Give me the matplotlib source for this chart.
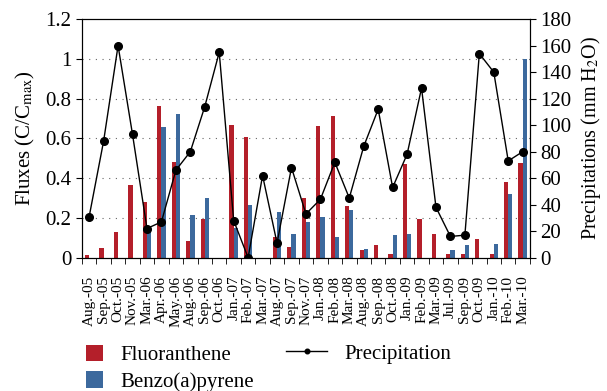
import numpy as np
import matplotlib
matplotlib.use("Agg")
import matplotlib.pyplot as plt

plt.rcParams['font.family'] = ['Liberation Serif', 'DejaVu Serif']
plt.rcParams['mathtext.fontset'] = 'stix'

months = ["Aug.-05", "Sep.-05", "Oct.-05", "Nov.-05", "Mar.-06", "Apr.-06", "May.-06",
          "Aug.-06", "Sep.-06", "Oct.-06", "Jan.-07", "Feb.-07", "Mar.-07", "Aug.-07",
          "Sep.-07", "Nov.-07", "Jan.-08", "Feb.-08", "Mar.-08", "Aug.-08", "Sep.-08",
          "Oct.-08", "Jan.-09", "Feb.-09", "Mar.-09", "Jul.-09", "Sep.-09", "Oct.-09",
          "Jan.-10", "Feb.-10", "Mar.-10"]

fluoranthene = [0.015, 0.047, 0.13, 0.364, 0.282, 0.764, 0.48,
                0.082, 0.194, 0.0, 0.667, 0.605, 0.0, 0.102,
                0.052, 0.302, 0.663, 0.712, 0.259, 0.038, 0.063,
                0.017, 0.473, 0.194, 0.12, 0.02, 0.02, 0.095,
                0.02, 0.383, 0.475]

benzo = [0.0, 0.0, 0.0, 0.0, 0.13, 0.658, 0.723,
         0.217, 0.299, 0.0, 0.15, 0.264, 0.0, 0.229,
         0.119, 0.179, 0.207, 0.105, 0.239, 0.042, 0.0,
         0.112, 0.119, 0.0, 0.0, 0.04, 0.062, 0.0,
         0.07, 0.318, 1.0]

precip = [31, 88, 160, 93, 22, 27, 66,
          80, 114, 155, 28, 0, 62, 11,
          68, 33, 44, 72, 45, 84, 112,
          53, 78, 128, 38, 16, 17, 154,
          140, 73, 80]

red = "#b41f2a"
blue = "#3c699d"
fs = 15

fig = plt.figure(figsize=(6.07, 3.91), dpi=100)
ax = fig.add_axes([0.135, 0.341, 0.738, 0.610])
x = np.arange(len(months))
w = 0.29

ax.bar(x - w / 2, fluoranthene, w, color=red, label="Fluoranthene", zorder=2)
ax.bar(x + w / 2, benzo, w, color=blue, label="Benzo(a)pyrene", zorder=2)
ax.set_ylim(0, 1.2)
ax.set_xlim(-0.5, len(months) - 0.5)
ax.set_yticks(np.arange(0, 1.21, 0.2))
ax.set_yticklabels(["0", "0.2", "0.4", "0.6", "0.8", "1", "1.2"])
ax.set_xticks(x)
ax.set_xticklabels(months, rotation=90, fontsize=11)
ax.set_xticks(np.arange(-0.5, len(months), 1), minor=True)
ax.tick_params(axis='x', which='major', length=0, pad=13)
ax.tick_params(axis='x', which='minor', length=4, direction='out')
ax.tick_params(axis='y', labelsize=fs, length=4)
ax.set_ylabel(r"Fluxes (C/C$_{\rm max}$)", fontsize=fs, labelpad=6)
for v in np.arange(0.2, 1.01, 0.2):
    ax.axhline(v, color="#666666", linestyle=(0, (1, 5)), linewidth=0.8, zorder=1)

ax2 = ax.twinx()
ax2.plot(x, precip, color="black", linewidth=1, marker="o", markersize=5.5,
         label="Precipitation", zorder=3)
ax2.set_ylim(0, 180)
ax2.set_yticks(np.arange(0, 181, 20))
ax2.tick_params(axis='y', labelsize=fs, length=4)
ax2.set_ylabel(r"Precipitations (mm H$_2$O)", fontsize=14.5, labelpad=5)

# bar legend and line legend are placed separately so the handles keep their own shape
h1, l1 = ax.get_legend_handles_labels()
fig.legend(h1, l1, frameon=False, fontsize=fs, loc="lower left",
           bbox_to_anchor=(0.11, -0.05), handlelength=0.85, handleheight=0.85,
           handletextpad=0.8, labelspacing=0.3)
h2, l2 = ax2.get_legend_handles_labels()
fig.legend(h2, l2, frameon=False, fontsize=fs, loc="lower left",
           bbox_to_anchor=(0.44, 0.022), handlelength=2.0,
           handletextpad=0.8, markerscale=0.6)

fig.savefig("out.png", dpi=100)
